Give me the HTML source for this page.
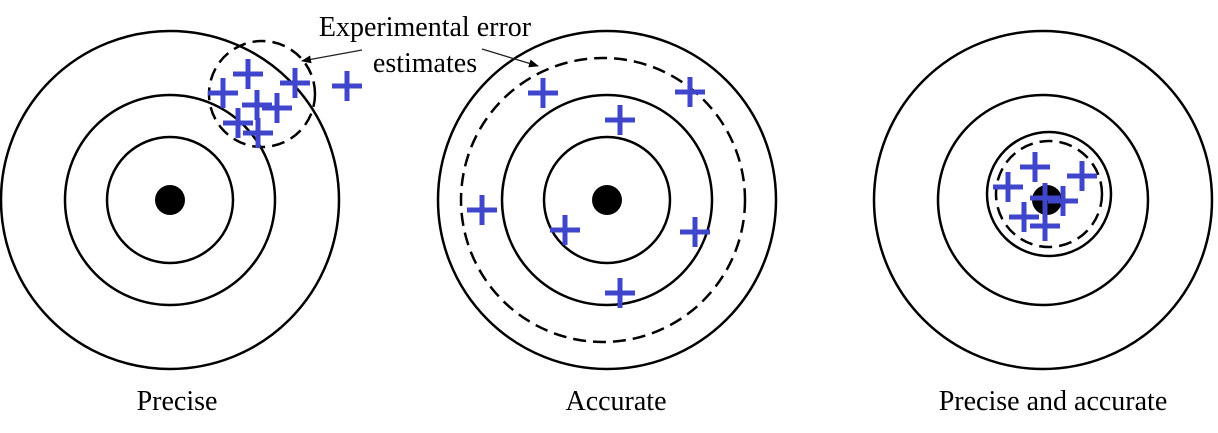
<!DOCTYPE html>
<html><head><style>body{margin:0;background:#fff}svg{display:block}</style></head><body>
<svg width="1218" height="433" viewBox="0 0 1218 433" xmlns="http://www.w3.org/2000/svg">
<defs><marker id="a" markerWidth="10" markerHeight="8" refX="9" refY="4" orient="auto" markerUnits="userSpaceOnUse"><path d="M0,0 L10,4 L0,8 z" fill="#000"/></marker>
<g id="p"><rect x="-15" y="-2.5" width="30" height="5" fill="#4046cc"/><rect x="-2.5" y="-15" width="5" height="30" fill="#4046cc"/></g></defs>
<g fill="none" stroke="#000" stroke-width="2.5">
<circle cx="170" cy="200" r="169"/><circle cx="170" cy="200" r="105"/><circle cx="170" cy="200" r="63"/>
<circle cx="607" cy="200" r="169"/><circle cx="607" cy="200" r="105"/><circle cx="607" cy="200" r="63"/>
<circle cx="1043" cy="200" r="169"/><circle cx="1043" cy="200" r="105"/><circle cx="1049" cy="194" r="62"/>
<g stroke-dasharray="13 7"><circle cx="262" cy="94" r="53"/><circle cx="603" cy="200" r="142"/><circle cx="1049" cy="194" r="53"/></g>
</g>
<g fill="#000"><circle cx="170" cy="200" r="15"/><circle cx="607" cy="200" r="15"/><circle cx="1047" cy="200" r="15"/></g>
<g stroke="#222" stroke-width="1.3" fill="none"><line x1="362" y1="50" x2="302" y2="61" marker-end="url(#a)"/><line x1="482" y1="49" x2="538" y2="66" marker-end="url(#a)"/></g>
<g><use href="#p" x="248" y="74"/><use href="#p" x="223" y="93"/><use href="#p" x="295" y="83"/><use href="#p" x="347" y="86"/><use href="#p" x="257" y="105"/><use href="#p" x="277" y="108"/><use href="#p" x="238" y="123"/><use href="#p" x="258" y="133"/>
<use href="#p" x="543" y="93"/><use href="#p" x="690" y="92"/><use href="#p" x="620" y="120"/><use href="#p" x="482" y="210"/><use href="#p" x="565" y="230"/><use href="#p" x="695" y="232"/><use href="#p" x="620" y="293"/>
<use href="#p" x="1035" y="167"/><use href="#p" x="1008" y="187"/><use href="#p" x="1082" y="176"/><use href="#p" x="1045" y="198"/><use href="#p" x="1063" y="201"/><use href="#p" x="1024" y="217"/><use href="#p" x="1045" y="226"/></g>
<g font-family="Liberation Serif, serif" font-size="28" fill="#000" text-anchor="middle">
<text x="425" y="36">Experimental error</text><text x="425" y="72">estimates</text>
<text x="177" y="410">Precise</text><text x="616" y="410">Accurate</text><text x="1053" y="410">Precise and accurate</text></g>
</svg></body></html>
